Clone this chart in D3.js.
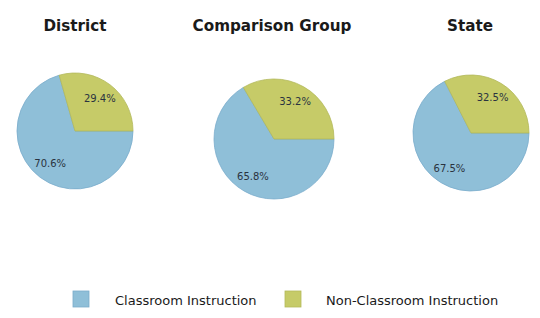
<!DOCTYPE html>
<html><head><meta charset="utf-8">
<script src="https://cdn.jsdelivr.net/npm/d3@7"></script>
<style>body{margin:0;background:#fff}svg{display:block}</style>
</head><body>
<script>
const groups = ["District", "Comparison Group", "State"];
const categories = ["Classroom Instruction", "Non-Classroom Instruction"];
const classroom = [70.6, 65.8, 67.5];
const nonClassroom = [29.4, 33.2, 32.5];
const colors = ["#8fbfd8", "#c6cb68"];
const strokes = ["#7aaccb", "#b3b95a"];

const W = 540, H = 318;
const svg = d3.select("body").append("svg").attr("width", W).attr("height", H);

const centers = [[75, 131, 58], [274, 139, 60], [471, 133, 58]];
const titleX = [75, 272, 470];

const pie = d3.pie().sort(null).startAngle(Math.PI / 2).endAngle(Math.PI / 2 + 2 * Math.PI);

groups.forEach((g, i) => {
  const [cx, cy, r] = centers[i];
  svg.append("text").attr("x", titleX[i]).attr("y", 31).attr("text-anchor", "middle")
    .style("font-family", "DejaVu Sans").style("font-weight", "bold").style("font-size", "15.2px")
    .attr("fill", "#1a1a1a").text(g);
  const data = pie([classroom[i], nonClassroom[i]]);
  const arc = d3.arc().innerRadius(0).outerRadius(r);
  const lab = d3.arc().innerRadius(r * 0.71).outerRadius(r * 0.71);
  const gg = svg.append("g").attr("transform", `translate(${cx},${cy})`);
  gg.selectAll("path").data(data).join("path")
    .attr("d", arc).attr("fill", (d, j) => colors[j])
    .attr("stroke", (d, j) => strokes[j]).attr("stroke-width", 0.8);
  gg.selectAll("text").data(data).join("text")
    .attr("transform", d => `translate(${lab.centroid(d)})`)
    .attr("text-anchor", "middle").attr("dy", "0.35em")
    .style("font-family", "DejaVu Sans").style("font-size", "10px")
    .attr("fill", "#2a3340")
    .text(d => d.value.toFixed(1) + "%");
});

const legendX = [[73, 115], [285, 326]];
categories.forEach((c, j) => {
  svg.append("rect").attr("x", legendX[j][0]).attr("y", 291).attr("width", 16).attr("height", 16)
    .attr("fill", colors[j]).attr("stroke", strokes[j]).attr("stroke-width", 0.8);
  svg.append("text").attr("x", legendX[j][1]).attr("y", 305)
    .style("font-family", "DejaVu Sans").style("font-size", "13px")
    .attr("fill", "#1a1a1a").text(c);
});
</script>
</body></html>
